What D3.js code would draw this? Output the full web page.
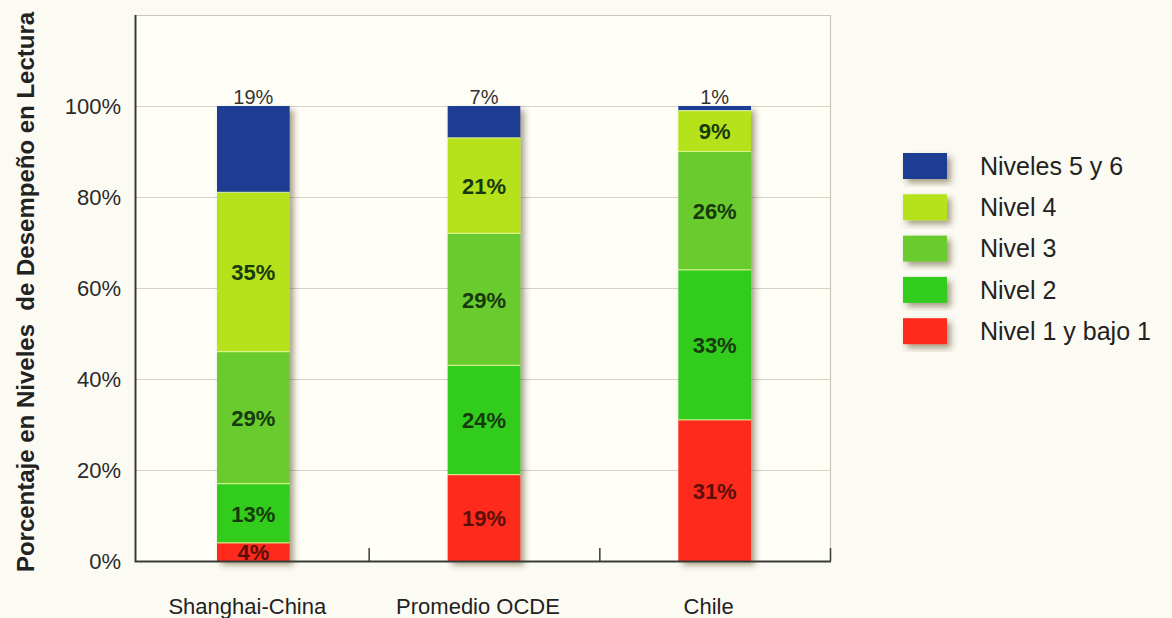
<!DOCTYPE html>
<html>
<head>
<meta charset="utf-8">
<script src="https://cdn.jsdelivr.net/npm/d3@7"></script>
<style>
  html, body { margin: 0; padding: 0; background: #fcfbf3; }
  svg { display: block; font-family: "Liberation Sans", Arial, sans-serif; }
</style>
</head>
<body>
<svg id="chart" width="1172" height="618"></svg>
<script>
// data
var categories = ["Shanghai-China", "Promedio OCDE", "Chile"];
var levels = ["Nivel 1 y bajo 1", "Nivel 2", "Nivel 3", "Nivel 4", "Niveles 5 y 6"];
var nivel1 = [4, 19, 31];
var nivel2 = [13, 24, 33];
var nivel3 = [29, 29, 26];
var nivel4 = [35, 21, 9];
var nivel56 = [19, 7, 1];
var yTicks = [0, 20, 40, 60, 80, 100];
var colors = ["#fe2a1c", "#33cc1f", "#6acb2f", "#b6e21f", "#1c3d92"];

var series = [nivel1, nivel2, nivel3, nivel4, nivel56];
var rows = categories.map(function(c, i){
  var r = {cat: c};
  levels.forEach(function(l, j){ r[l] = series[j][i]; });
  return r;
});

var svg = d3.select("#chart");
var pLeft = 135, pRight = 830, pTop = 15, pBottom = 561;

var x = d3.scaleBand().domain(categories).range([pLeft + 3, pRight]).paddingInner(0.685).paddingOuter(0.3425);
var y = d3.scaleLinear().domain([0, 120]).range([pBottom, pTop]);
var color = d3.scaleOrdinal().domain(levels).range(colors);

var defs = svg.append("defs");
var f = defs.append("filter").attr("id", "shadow").attr("x", "-20%").attr("y", "-20%").attr("width", "150%").attr("height", "150%");
f.append("feDropShadow").attr("dx", 4).attr("dy", 4).attr("stdDeviation", 3)
  .attr("flood-color", "#3a2a10").attr("flood-opacity", 0.45);

// plot background
svg.append("rect").attr("x", pLeft).attr("y", pTop).attr("width", pRight - pLeft).attr("height", pBottom - pTop)
  .attr("fill", "#fffef7");

// gridlines
svg.append("g").selectAll("line").data(yTicks.filter(function(d){ return d > 0; }))
  .join("line")
  .attr("x1", pLeft).attr("x2", pRight)
  .attr("y1", function(d){ return y(d) + 0.5; }).attr("y2", function(d){ return y(d) + 0.5; })
  .attr("stroke", "#d6d2c4").attr("stroke-width", 1);

// frame top/right
svg.append("path")
  .attr("d", "M" + pLeft + "," + (pTop + 0.5) + "H" + (pRight + 0.5) + "V" + pBottom)
  .attr("fill", "none").attr("stroke", "#c9c6bb").attr("stroke-width", 1.2);

// bars
var stack = d3.stack().keys(levels)(rows);
var barG = svg.append("g");
var groups = barG.selectAll("g.bar").data(categories).join("g").attr("class", "bar")
  .attr("filter", "url(#shadow)");
groups.each(function(cat, i){
  var g = d3.select(this);
  stack.forEach(function(s){
    var d = s[i];
    g.append("rect")
      .attr("x", x(cat)).attr("width", x.bandwidth())
      .attr("y", y(d[1])).attr("height", y(d[0]) - y(d[1]))
      .attr("fill", color(s.key));
  });
});
// light separators between segments
stack.slice(1).forEach(function(s){
  s.forEach(function(d, i){
    barG.append("line")
      .attr("x1", x(categories[i])).attr("x2", x(categories[i]) + x.bandwidth())
      .attr("y1", y(d[0])).attr("y2", y(d[0]))
      .attr("stroke", "#e9f7a0").attr("stroke-opacity", 0.8).attr("stroke-width", 1.2);
  });
});

// axes (left and bottom)
svg.append("path")
  .attr("d", "M" + (pLeft + 0.5) + "," + pTop + "V" + (pBottom + 0.5) + "H" + (pRight + 1))
  .attr("fill", "none").attr("stroke", "#3a3a36").attr("stroke-width", 2);
var bounds = [x(categories[1]) - x.step() * x.paddingInner() / 2, x(categories[2]) - x.step() * x.paddingInner() / 2, pRight];
svg.append("g").selectAll("line").data(bounds).join("line")
  .attr("x1", function(d){ return d + 0.5; }).attr("x2", function(d){ return d + 0.5; })
  .attr("y1", pBottom - 13).attr("y2", pBottom)
  .attr("stroke", "#3a3a36").attr("stroke-width", 1.5);

// y tick labels
svg.append("g").selectAll("text").data(yTicks).join("text")
  .attr("x", 121).attr("y", function(d){ return y(d); })
  .attr("dy", "0.35em").attr("text-anchor", "end")
  .attr("font-size", 22).attr("fill", "#2a2a2a")
  .text(function(d){ return d + "%"; });

// category labels
svg.append("g").selectAll("text").data(categories).join("text")
  .attr("x", function(d){ return x(d) + x.bandwidth() / 2 - 6; }).attr("y", 614)
  .attr("text-anchor", "middle").attr("font-size", 22).attr("fill", "#222")
  .text(function(d){ return d; });

// y title
svg.append("text")
  .attr("transform", "translate(34,292) rotate(-90)")
  .attr("text-anchor", "middle").attr("font-size", 24).attr("font-weight", "bold").attr("fill", "#222")
  .attr("xml:space", "preserve")
  .text("Porcentaje en Niveles  de Desempeño en Lectura");

// segment value labels
var labelG = svg.append("g");
stack.slice(0, 4).forEach(function(s){
  s.forEach(function(d, i){
    labelG.append("text")
      .attr("x", x(categories[i]) + x.bandwidth() / 2)
      .attr("y", y((d[0] + d[1]) / 2)).attr("dy", "0.38em")
      .attr("text-anchor", "middle").attr("font-size", 22).attr("font-weight", "bold")
      .attr("fill", s.key === "Nivel 1 y bajo 1" ? "#5a1008" : "#173a0c")
      .text(d.data[s.key] + "%");
  });
});
// top level labels above bars
stack[4].forEach(function(d, i){
  labelG.append("text")
    .attr("x", x(categories[i]) + x.bandwidth() / 2)
    .attr("y", y(100) - 2)
    .attr("text-anchor", "middle").attr("font-size", 20).attr("fill", "#333")
    .text(d.data["Niveles 5 y 6"] + "%");
});

// legend
var legendItems = levels.slice().reverse();
var lg = svg.append("g").attr("transform", "translate(903,153)");
var li = lg.selectAll("g").data(legendItems).join("g")
  .attr("transform", function(d, i){ return "translate(0," + i * 41.3 + ")"; });
li.append("rect").attr("width", 44).attr("height", 26)
  .attr("fill", function(d){ return color(d); }).attr("filter", "url(#shadow)");
li.append("text").attr("x", 77).attr("y", 13).attr("dy", "0.35em")
  .attr("font-size", 25).attr("fill", "#222")
  .text(function(d){ return d; });
</script>
</body>
</html>
